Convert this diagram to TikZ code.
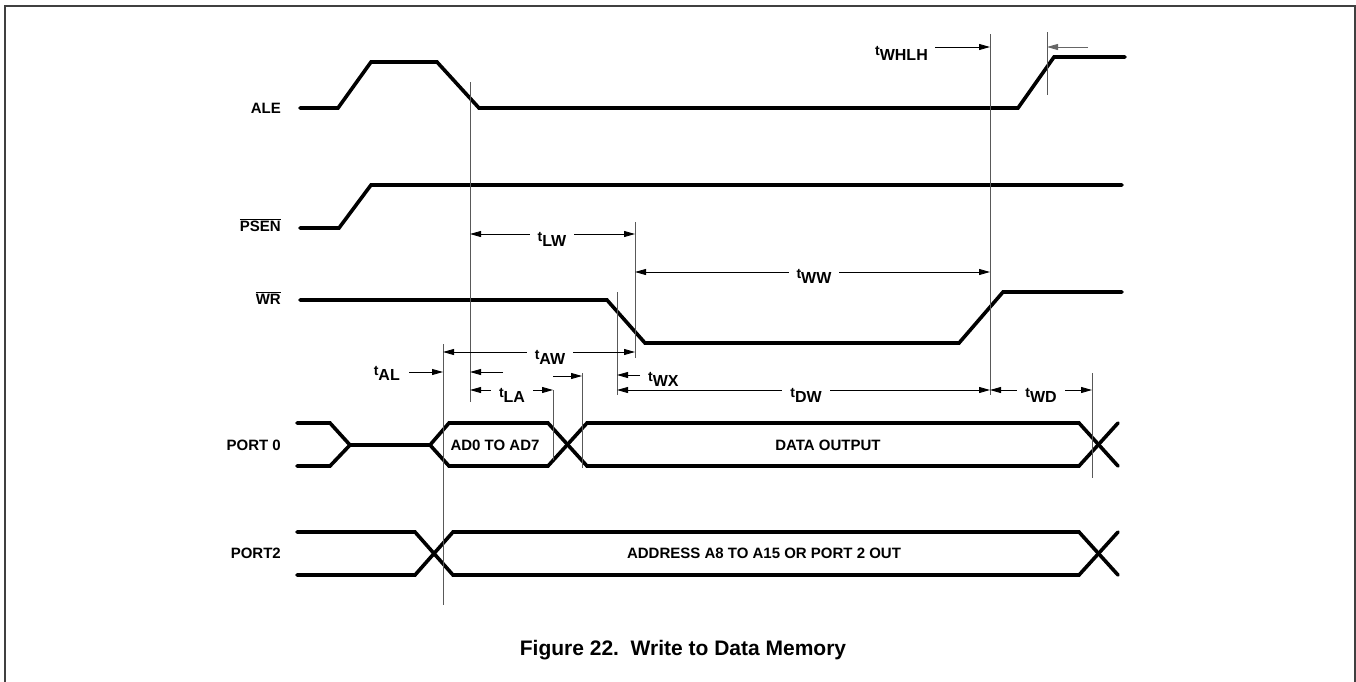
\documentclass[tikz,border=0pt]{standalone}
\usepackage{fontspec}
\setmainfont{Liberation Sans}
\usetikzlibrary{arrows.meta}

\newcommand{\tname}[1]{\raisebox{5pt}{\fontsize{14}{14}\selectfont t}{\fontsize{16}{16}\selectfont #1}}

\tikzset{
  sig/.style={line width=3.6pt, line cap=round},
  refline/.style={line width=0.9pt, black!65},
  dim/.style={line width=0.8pt, {Triangle[length=11pt,width=6pt]}-{Triangle[length=11pt,width=6pt]}},
  dimr/.style={line width=0.8pt, -{Triangle[length=11pt,width=6pt]}},
  lab/.style={font=\fontsize{15}{15}\selectfont\bfseries, inner sep=0pt},
  tlab/.style={lab, fill=white, inner xsep=8pt, inner ysep=2pt, anchor=base},
  tside/.style={lab, inner sep=0pt}
}

\begin{document}
\begin{tikzpicture}[x=1pt,y=-1pt]
  \useasboundingbox (0,0) rectangle (1356,681);
  % frame, open at the bottom
  \draw[line width=1.5pt, black!75] (5,690) -- (5,6) -- (1355,6) -- (1355,690);

  % signal names
  \foreach \name/\y/\txt in {ale/108/ALE, psen/225/$\overline{\mbox{PSEN}}$, wr/298/$\overline{\mbox{WR}}$, pzero/445/PORT 0, ptwo/553/PORT2}
    \node[lab, anchor=east] (\name) at (281,\y) {\txt};

  % waveforms
  \draw[sig] (300,108) -- (338,108) -- (371,62) -- (437,62) -- (479,108) -- (1018,108) -- (1054,57) -- (1125,57);
  \draw[sig] (300,228) -- (339,228) -- (371,185) -- (1122,185);
  \draw[sig] (300,300) -- (607,300) -- (645,343) -- (959,343) -- (1003,292) -- (1122,292);
  \draw[sig] (297,423) -- (330,423) -- (350,445) -- (430,445) -- (449,423) -- (548,423) -- (587,466) -- (1079,466) -- (1118,423);
  \draw[sig] (297,466) -- (330,466) -- (350,445);
  \draw[sig] (430,445) -- (449,466) -- (548,466) -- (587,423) -- (1079,423) -- (1118,466);
  \draw[sig] (297,532) -- (415,532) -- (453,575) -- (1079,575) -- (1118,532);
  \draw[sig] (297,575) -- (415,575) -- (453,532) -- (1079,532) -- (1118,575);

  % bus contents
  \node[lab] (addr) at (495,445) {AD0 TO AD7};
  \node[lab] (dout) at (828,445) {DATA OUTPUT};
  \node[lab] (aout) at (764,553) {ADDRESS A8 TO A15 OR PORT 2 OUT};

  % reference lines
  \foreach \x/\ya/\yb in {470/82/402, 635/222/358, 990/34/395, 1047/32/95, 443/344/605, 617/292/395, 553/390/460, 582/373/468, 1092/373/478}
    \draw[refline] (\x,\ya) -- (\x,\yb);

  % arrow ends
  \coordinate (lw1) at (470,234);  \coordinate (lw2) at (635,234);
  \coordinate (ww1) at (635,272);  \coordinate (ww2) at (990,272);
  \coordinate (aw1) at (443,352);  \coordinate (aw2) at (635,352);
  \coordinate (la1) at (470,390);  \coordinate (la2) at (553,390);
  \coordinate (dw1) at (617,390);  \coordinate (dw2) at (990,390);
  \coordinate (wd1) at (990,390);  \coordinate (wd2) at (1092,390);
  \coordinate (wh1) at (935,47);   \coordinate (wh2) at (990,47);
  \coordinate (ah1) at (1088,47);  \coordinate (ah2) at (1047,47);
  \coordinate (al1) at (409,372);  \coordinate (al2) at (443,372);
  \coordinate (lh1) at (503,372);  \coordinate (lh2) at (470,372);
  \coordinate (ax1) at (553,376);  \coordinate (ax2) at (582,376);
  \coordinate (wx1) at (640,375);  \coordinate (wx2) at (617,375);

  % timing arrows
  \draw[dim] (lw1) -- (lw2);
  \draw[dim] (ww1) -- (ww2);
  \draw[dim] (aw1) -- (aw2);
  \draw[dim] (la1) -- (la2);
  \draw[dim] (dw1) -- (dw2);
  \draw[dim] (wd1) -- (wd2);
  \draw[dimr] (wh1) -- (wh2);
  \draw[dimr, black!60] (ah1) -- (ah2);
  \draw[dimr] (al1) -- (al2);
  \draw[dimr] (lh1) -- (lh2);
  \draw[dimr] (ax1) -- (ax2);
  \draw[dimr] (wx1) -- (wx2);

  % timing labels
  \node[tlab] (tlw) at (552,246) {\tname{LW}};
  \node[tlab] (tww) at (814,283) {\tname{WW}};
  \node[tlab] (taw) at (550,364) {\tname{AW}};
  \node[tlab] (tla) at (512,402) {\tname{LA}};
  \node[tlab] (tdw) at (806,402) {\tname{DW}};
  \node[tlab] (twd) at (1041,402) {\tname{WD}};
  \node[tside, anchor=base east] (twhlh) at (928,60) {\tname{WHLH}};
  \node[tside, anchor=base east] (tal) at (400,380) {\tname{AL}};
  \node[tside, anchor=base west] (twx) at (648,386) {\tname{WX}};

  % caption
  \node[font=\fontsize{21}{21}\selectfont\bfseries, anchor=base] (cap) at (683,655) {Figure 22.\ \ Write to Data Memory};
\end{tikzpicture}
\end{document}
